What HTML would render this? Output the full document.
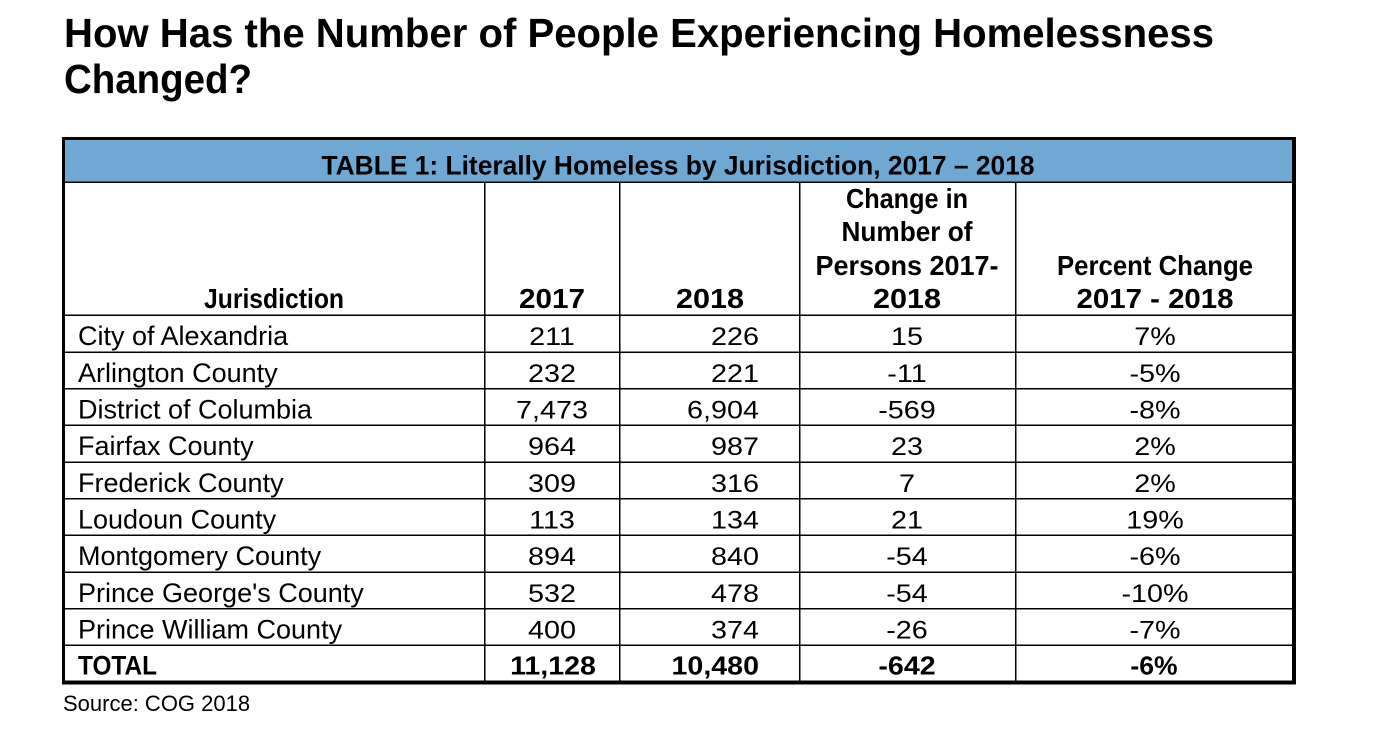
<!DOCTYPE html>
<html>
<head>
<meta charset="utf-8">
<style>
  html, body { margin: 0; padding: 0; background: #ffffff; }
  svg { display: block; }
  text { font-family: "Liberation Sans", Arial, sans-serif; fill: #000; }
  .b { font-weight: bold; }
</style>
</head>
<body>
<svg width="1391" height="735" viewBox="0 0 1391 735" xmlns="http://www.w3.org/2000/svg">
  <rect x="0" y="0" width="1391" height="735" fill="#ffffff"/>

  <!-- Page title -->
  <text class="b" x="64" y="47" font-size="41" textLength="1150" lengthAdjust="spacingAndGlyphs">How Has the Number of People Experiencing Homelessness</text>
  <text class="b" x="64" y="93" font-size="41" textLength="188" lengthAdjust="spacingAndGlyphs">Changed?</text>

  <!-- Blue title band -->
  <rect x="64" y="139" width="1230" height="43" fill="#70a8d4"/>
  <text class="b" x="321.5" y="174.5" font-size="27" textLength="713" lengthAdjust="spacingAndGlyphs">TABLE 1: Literally Homeless by Jurisdiction, 2017 – 2018</text>

  <!-- Internal lines -->
  <g fill="#000">
    <rect x="64" y="181.5" width="1230" height="1.5"/>
    <rect x="64" y="314.5" width="1230" height="1.5"/>
    <rect x="64" y="351.5" width="1230" height="1.5"/>
    <rect x="64" y="388" width="1230" height="1.5"/>
    <rect x="64" y="424.5" width="1230" height="1.5"/>
    <rect x="64" y="461.5" width="1230" height="1.5"/>
    <rect x="64" y="498" width="1230" height="1.5"/>
    <rect x="64" y="534.5" width="1230" height="1.5"/>
    <rect x="64" y="571.5" width="1230" height="1.5"/>
    <rect x="64" y="608" width="1230" height="1.5"/>
    <rect x="64" y="644.5" width="1230" height="1.5"/>

    <rect x="484" y="182" width="1.5" height="500"/>
    <rect x="619" y="182" width="1.5" height="500"/>
    <rect x="799" y="182" width="1.5" height="500"/>
    <rect x="1015" y="182" width="1.5" height="500"/>
  </g>

  <!-- Outer border -->
  <g fill="#000">
    <rect x="62" y="137" width="1234" height="3"/>
    <rect x="62" y="137" width="3" height="547"/>
    <rect x="1292" y="137" width="4" height="547"/>
    <rect x="62" y="680.5" width="1234" height="4"/>
  </g>

  <!-- Header row -->
  <g class="b" font-size="27.5" text-anchor="middle">
    <text x="274" y="308" textLength="140" lengthAdjust="spacingAndGlyphs">Jurisdiction</text>
    <text x="552" y="308" textLength="66" lengthAdjust="spacingAndGlyphs">2017</text>
    <text x="710" y="308" textLength="68" lengthAdjust="spacingAndGlyphs">2018</text>
    <text x="907" y="208" textLength="122" lengthAdjust="spacingAndGlyphs">Change in</text>
    <text x="907" y="241" textLength="131" lengthAdjust="spacingAndGlyphs">Number of</text>
    <text x="907" y="275" textLength="183" lengthAdjust="spacingAndGlyphs">Persons 2017-</text>
    <text x="907" y="308" textLength="68" lengthAdjust="spacingAndGlyphs">2018</text>
    <text x="1155" y="275" textLength="196" lengthAdjust="spacingAndGlyphs">Percent Change</text>
    <text x="1155" y="308" textLength="157" lengthAdjust="spacingAndGlyphs">2017 - 2018</text>
  </g>

  <!-- Jurisdiction names -->
  <g font-size="27">
    <text x="78" y="345">City of Alexandria</text>
    <text x="78" y="382">Arlington County</text>
    <text x="78" y="418.5">District of Columbia</text>
    <text x="78" y="455">Fairfax County</text>
    <text x="78" y="492">Frederick County</text>
    <text x="78" y="528.5">Loudoun County</text>
    <text x="78" y="565">Montgomery County</text>
    <text x="78" y="602">Prince George's County</text>
    <text x="78" y="638.5">Prince William County</text>
    <text class="b" x="78" y="674.5" textLength="79" lengthAdjust="spacingAndGlyphs">TOTAL</text>
  </g>

  <!-- Numbers: col2 center 552, col3 right 759, col4 center 907, col5 center 1155 -->
  <g font-size="25">
    <!-- row 1 -->
    <text transform="translate(552,345) scale(1.15,1)" text-anchor="middle">211</text>
    <text transform="translate(759,345) scale(1.15,1)" text-anchor="end">226</text>
    <text transform="translate(907,345) scale(1.15,1)" text-anchor="middle">15</text>
    <text transform="translate(1155,345) scale(1.15,1)" text-anchor="middle">7%</text>
    <!-- row 2 -->
    <text transform="translate(552,382) scale(1.15,1)" text-anchor="middle">232</text>
    <text transform="translate(759,382) scale(1.15,1)" text-anchor="end">221</text>
    <text transform="translate(907,382) scale(1.15,1)" text-anchor="middle">-11</text>
    <text transform="translate(1155,382) scale(1.15,1)" text-anchor="middle">-5%</text>
    <!-- row 3 -->
    <text transform="translate(552,418.5) scale(1.15,1)" text-anchor="middle">7,473</text>
    <text transform="translate(759,418.5) scale(1.15,1)" text-anchor="end">6,904</text>
    <text transform="translate(907,418.5) scale(1.15,1)" text-anchor="middle">-569</text>
    <text transform="translate(1155,418.5) scale(1.15,1)" text-anchor="middle">-8%</text>
    <!-- row 4 -->
    <text transform="translate(552,455) scale(1.15,1)" text-anchor="middle">964</text>
    <text transform="translate(759,455) scale(1.15,1)" text-anchor="end">987</text>
    <text transform="translate(907,455) scale(1.15,1)" text-anchor="middle">23</text>
    <text transform="translate(1155,455) scale(1.15,1)" text-anchor="middle">2%</text>
    <!-- row 5 -->
    <text transform="translate(552,492) scale(1.15,1)" text-anchor="middle">309</text>
    <text transform="translate(759,492) scale(1.15,1)" text-anchor="end">316</text>
    <text transform="translate(907,492) scale(1.15,1)" text-anchor="middle">7</text>
    <text transform="translate(1155,492) scale(1.15,1)" text-anchor="middle">2%</text>
    <!-- row 6 -->
    <text transform="translate(552,528.5) scale(1.15,1)" text-anchor="middle">113</text>
    <text transform="translate(759,528.5) scale(1.15,1)" text-anchor="end">134</text>
    <text transform="translate(907,528.5) scale(1.15,1)" text-anchor="middle">21</text>
    <text transform="translate(1155,528.5) scale(1.15,1)" text-anchor="middle">19%</text>
    <!-- row 7 -->
    <text transform="translate(552,565) scale(1.15,1)" text-anchor="middle">894</text>
    <text transform="translate(759,565) scale(1.15,1)" text-anchor="end">840</text>
    <text transform="translate(907,565) scale(1.15,1)" text-anchor="middle">-54</text>
    <text transform="translate(1155,565) scale(1.15,1)" text-anchor="middle">-6%</text>
    <!-- row 8 -->
    <text transform="translate(552,602) scale(1.15,1)" text-anchor="middle">532</text>
    <text transform="translate(759,602) scale(1.15,1)" text-anchor="end">478</text>
    <text transform="translate(907,602) scale(1.15,1)" text-anchor="middle">-54</text>
    <text transform="translate(1155,602) scale(1.15,1)" text-anchor="middle">-10%</text>
    <!-- row 9 -->
    <text transform="translate(552,638.5) scale(1.15,1)" text-anchor="middle">400</text>
    <text transform="translate(759,638.5) scale(1.15,1)" text-anchor="end">374</text>
    <text transform="translate(907,638.5) scale(1.15,1)" text-anchor="middle">-26</text>
    <text transform="translate(1155,638.5) scale(1.15,1)" text-anchor="middle">-7%</text>
  </g>

  <!-- Total row numbers (bold) -->
  <g class="b" font-size="26">
    <text transform="translate(553,674.5) scale(1.1,1)" text-anchor="middle">11,128</text>
    <text transform="translate(759,674.5) scale(1.1,1)" text-anchor="end">10,480</text>
    <text transform="translate(907,674.5) scale(1.1,1)" text-anchor="middle">-642</text>
    <text transform="translate(1154,674.5) scale(1.02,1)" text-anchor="middle">-6%</text>
  </g>

  <!-- Source -->
  <text x="63" y="711" font-size="22" fill="#1a1a1a">Source: COG 2018</text>
</svg>
</body>
</html>
